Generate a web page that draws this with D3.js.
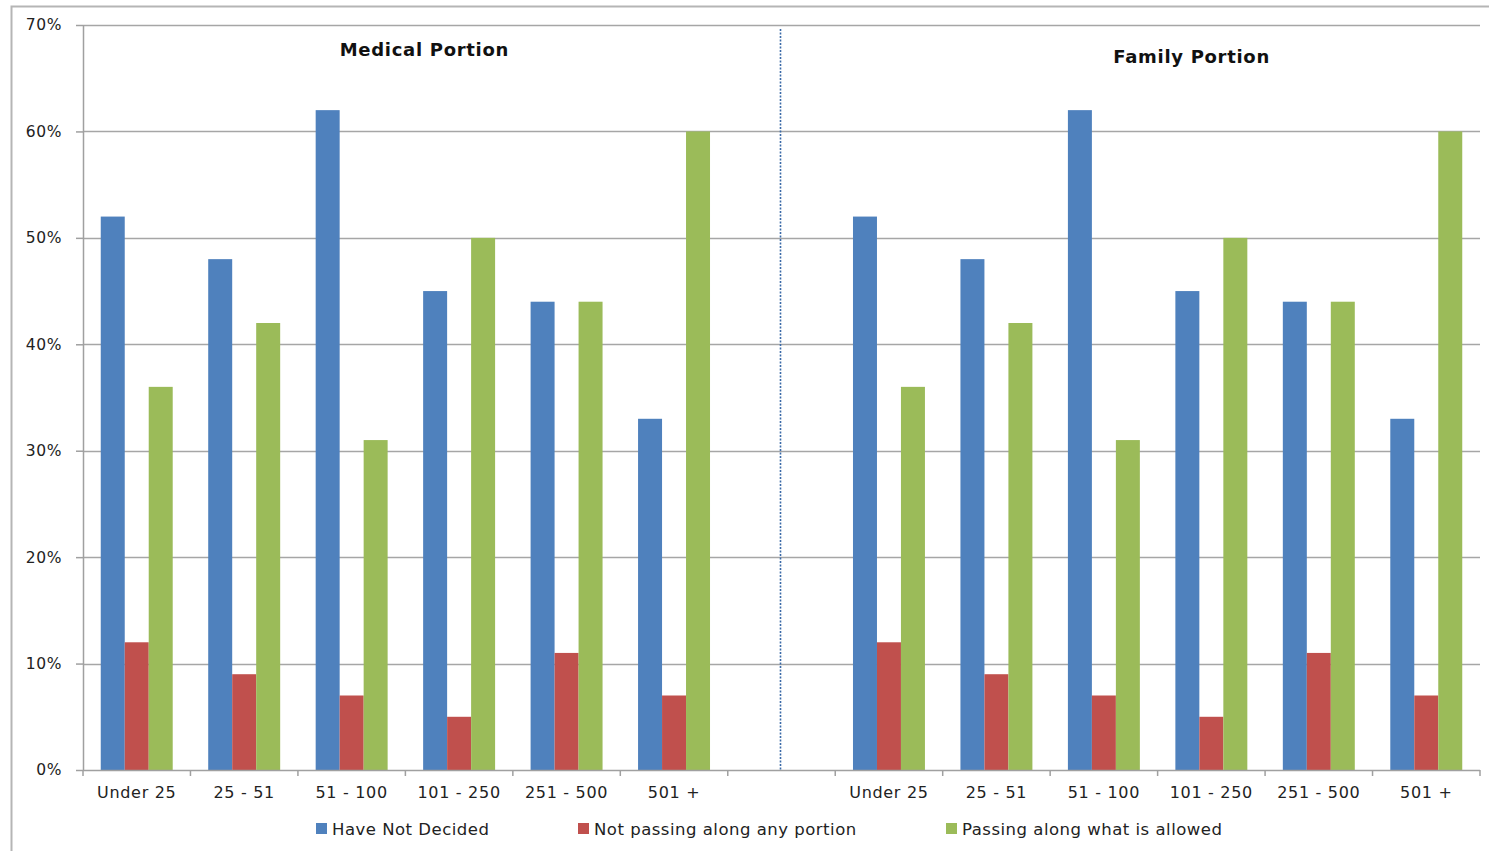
<!DOCTYPE html>
<html>
<head>
<meta charset="utf-8">
<script src="https://cdn.jsdelivr.net/npm/d3@7"></script>
<style>
  html, body { margin: 0; padding: 0; background: #fff; }
  svg { display: block; }
</style>
</head>
<body>
<svg id="chart" width="1489" height="851"></svg>
<script>
// Plan-size groups, shown twice (medical, then family), separated by an empty slot
const groups = ["Under 25", "25 - 51", "51 - 100", "101 - 250", "251 - 500", "501 +"];
const sections = ["Medical Portion", "Family Portion"];
const seriesNames = ["Have Not Decided", "Not passing along any portion", "Passing along what is allowed"];
const seriesColors = ["#4F81BD", "#C0504D", "#9BBB59"];

// Percent of respondents per group
const medicalNotDecided = [52, 48, 62, 45, 44, 33];
const medicalNotPassing = [12, 9, 7, 5, 11, 7];
const medicalPassing    = [36, 42, 31, 50, 44, 60];
const familyNotDecided  = [52, 48, 62, 45, 44, 33];
const familyNotPassing  = [12, 9, 7, 5, 11, 7];
const familyPassing     = [36, 42, 31, 50, 44, 60];

const yTicks = [0, 10, 20, 30, 40, 50, 60, 70];

const FONT = "'DejaVu Sans', sans-serif";
const svg = d3.select("#chart");
const W = 1489, H = 851;
const m = { left: 83, right: 9, top: 25, bottom: 81 };
const plotW = W - m.left - m.right;
const plotH = H - m.top - m.bottom;

// Frame of the chart area
svg.append("path")
  .attr("d", `M11.5,${H} L11.5,6.5 L${W},6.5`)
  .attr("fill", "none").attr("stroke", "#b5b5b5").attr("stroke-width", 2);

// Slots: 6 medical, 1 spacer, 6 family
const slots = [
  ...groups.map((g, i) => ({ key: "m" + i, label: g })),
  { key: "gap", label: "" },
  ...groups.map((g, i) => ({ key: "f" + i, label: g }))
];

const x = d3.scaleBand().domain(slots.map(s => s.key)).range([m.left, m.left + plotW]).padding(0);
const xs = d3.scaleBand().domain(seriesNames).range([0, x.bandwidth()]).paddingOuter(0.74).paddingInner(0);
const y = d3.scaleLinear().domain([0, 70]).range([m.top + plotH, m.top]);

const g = svg.append("g");

// Horizontal gridlines
g.append("g").selectAll("line").data(yTicks.filter(t => t > 0)).join("line")
  .attr("x1", m.left).attr("x2", m.left + plotW)
  .attr("y1", d => Math.round(y(d)) + 0.5).attr("y2", d => Math.round(y(d)) + 0.5)
  .attr("stroke", "#a6a6a6").attr("stroke-width", 1.5);

// Bars
const rows = [];
const medical = [medicalNotDecided, medicalNotPassing, medicalPassing];
const family = [familyNotDecided, familyNotPassing, familyPassing];
groups.forEach((gr, i) => {
  seriesNames.forEach((s, j) => {
    rows.push({ slot: "m" + i, series: s, value: medical[j][i], color: seriesColors[j] });
    rows.push({ slot: "f" + i, series: s, value: family[j][i], color: seriesColors[j] });
  });
});

g.append("g").selectAll("rect").data(rows).join("rect")
  .attr("x", d => x(d.slot) + xs(d.series))
  .attr("width", xs.bandwidth())
  .attr("y", d => y(d.value))
  .attr("height", d => y(0) - y(d.value))
  .attr("fill", d => d.color);

// Y axis
const yAxis = d3.axisLeft(y).tickValues(yTicks).tickFormat(d => d + "%").tickSize(7).tickPadding(14);
const ya = svg.append("g").attr("transform", `translate(${m.left},0)`).call(yAxis);
ya.select(".domain").attr("stroke", "#a0a0a0").attr("stroke-width", 1.5).attr("d", `M0.5,${y(70)}V${y(0)}`);
ya.selectAll(".tick line").attr("stroke", "#a0a0a0").attr("stroke-width", 1.5);
ya.selectAll(".tick text")
  .attr("font-family", FONT).attr("font-size", 15.5).attr("letter-spacing", 0.6).attr("fill", "#222");

// X axis: tick marks at slot boundaries, labels centered in slots
const xAxisG = svg.append("g").attr("transform", `translate(0,${y(0)})`);
xAxisG.append("line").attr("x1", m.left).attr("x2", m.left + plotW).attr("y1", 0.5).attr("y2", 0.5)
  .attr("stroke", "#a0a0a0").attr("stroke-width", 1.5);
const bounds = slots.map(s => x(s.key)).concat([m.left + plotW]);
xAxisG.selectAll("line.tk").data(bounds).join("line").attr("class", "tk")
  .attr("x1", d => d).attr("x2", d => d).attr("y1", 0).attr("y2", 6)
  .attr("stroke", "#a0a0a0").attr("stroke-width", 1.5);
xAxisG.selectAll("text").data(slots.filter(s => s.label)).join("text")
  .attr("x", d => x(d.key) + x.bandwidth() / 2)
  .attr("y", 28)
  .attr("text-anchor", "middle")
  .attr("font-family", FONT).attr("font-size", 16).attr("letter-spacing", 0.7).attr("fill", "#222")
  .text(d => d.label);

// Divider between the two sections
const midX = x("gap") + x.bandwidth() / 2 - 1;
svg.append("line").attr("x1", midX).attr("x2", midX).attr("y1", 29).attr("y2", y(0))
  .attr("stroke", "#3a6aa8").attr("stroke-width", 1.6).attr("stroke-dasharray", "2,1.5");

// Section titles
const titlePos = [
  { text: sections[0], cx: (x("m0") + x("m5") + x.bandwidth()) / 2 + 19, y: 56 },
  { text: sections[1], cx: (x("f0") + x("f5") + x.bandwidth()) / 2 + 34, y: 63 }
];
svg.selectAll("text.title").data(titlePos).join("text").attr("class", "title")
  .attr("x", d => d.cx).attr("y", d => d.y).attr("text-anchor", "middle")
  .attr("font-family", FONT).attr("font-weight", "bold")
  .attr("font-size", 18).attr("letter-spacing", 0.7).attr("fill", "#111")
  .text(d => d.text);

// Legend
const legendX = [316, 578, 946];
const leg = svg.append("g").selectAll("g").data(seriesNames).join("g")
  .attr("transform", (d, i) => `translate(${legendX[i]},823)`);
leg.append("rect").attr("width", 11).attr("height", 11).attr("fill", (d, i) => seriesColors[i]);
leg.append("text").attr("x", 16).attr("y", 11.5)
  .attr("font-family", FONT).attr("font-size", 16.5).attr("letter-spacing", 0.5).attr("fill", "#222")
  .text(d => d);
</script>
</body>
</html>
